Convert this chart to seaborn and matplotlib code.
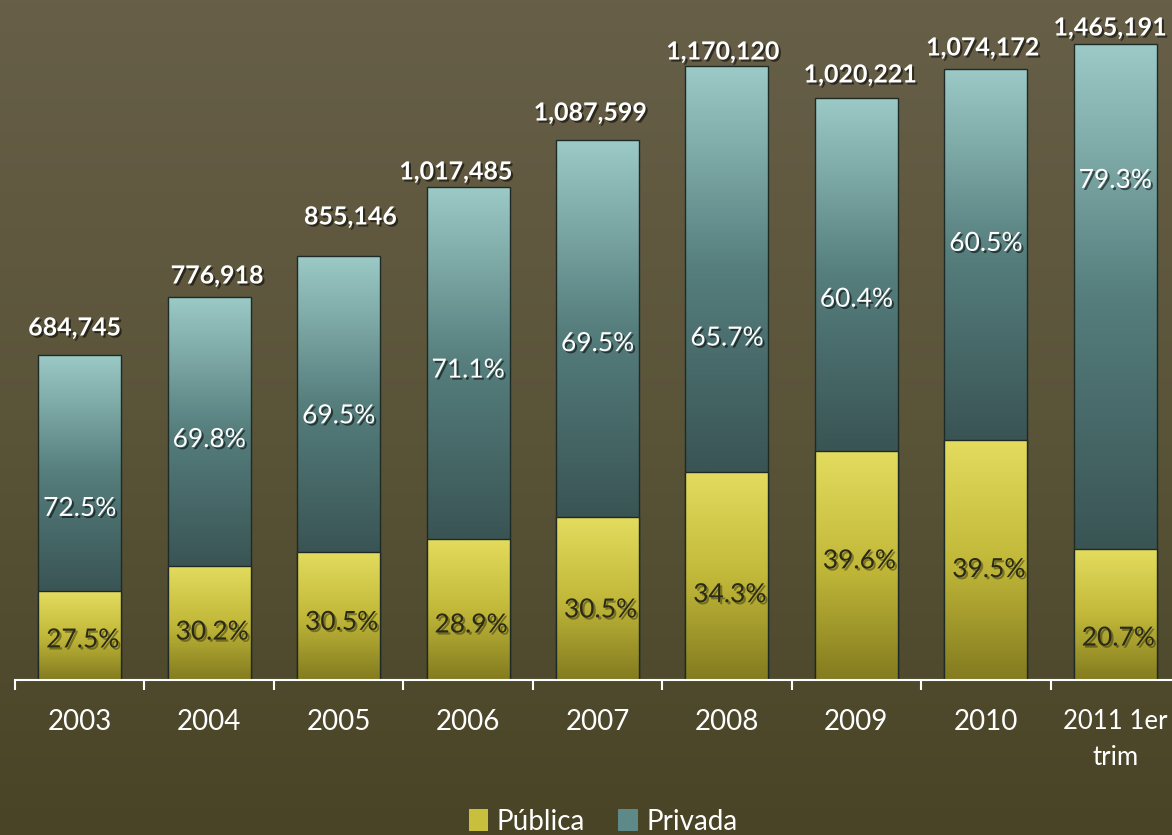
import numpy as np
import pandas as pd
import matplotlib
matplotlib.use("Agg")
import matplotlib.pyplot as plt
import seaborn as sns
from matplotlib import patheffects as pe
from matplotlib.colors import LinearSegmentedColormap
from matplotlib.patches import Patch

# ---------------- data ----------------
years = ["2003", "2004", "2005", "2006", "2007", "2008", "2009", "2010", "2011 1er\ntrim"]
totals = [684745, 776918, 855146, 1017485, 1087599, 1170120, 1020221, 1074172, 1465191]
pct_publica = [27.5, 30.2, 30.5, 28.9, 30.5, 34.3, 39.6, 39.5, 20.7]
pct_privada = [72.5, 69.8, 69.5, 71.1, 69.5, 65.7, 60.4, 60.5, 79.3]
# segment heights as drawn in the picture
publica = [187500, 240200, 269700, 297100, 343400, 438300, 482500, 505700, 276000]
privada = [497300, 566800, 623700, 741700, 794300, 855400, 743800, 781700, 1064000]

# ---------------- layout / style ----------------
priv_lab_frac = [0.35, 0.47, 0.46, 0.48, 0.46, 0.33, 0.43, 0.53, 0.73]
pub_lab_frac = [0.45, 0.42, 0.45, 0.39, 0.43, 0.41, 0.52, 0.46, 0.32]
tot_gap_px = [27, 21, 39, 15, 27, 14, 23, 21, 16]
tot_dx_px = [-5, 8, 12, -12, -7, -4, 4, -3, -5]

sns.set_style("white")
plt.rcParams["font.family"] = ["Lato", "DejaVu Sans"]

W, H = 1172, 835
fig = plt.figure(figsize=(W / 100, H / 100), dpi=100)

# background gradient
bg = fig.add_axes([0, 0, 1, 1], zorder=-10)
bg_cmap = LinearSegmentedColormap.from_list("bg", ["#494426", "#5a5439", "#675f48"])
bg.imshow(np.linspace(0, 1, 256).reshape(-1, 1), cmap=bg_cmap, aspect="auto",
          extent=[0, 1, 0, 1], origin="lower")
bg.axis("off")

ax = fig.add_axes([15 / W, 155 / H, 1165 / W, 680 / H])
ax.patch.set_alpha(0)

df = pd.DataFrame({"year": years, "publica": publica, "privada": privada})
df["total"] = df["publica"] + df["privada"]

priv_color = "#6c9896"
pub_color = "#c8bf3c"
edge = "#1e2a26"
bw = 83 / 129.4

sns.barplot(data=df, x="year", y="total", color=priv_color, width=bw, ax=ax,
            errorbar=None, saturation=1, edgecolor=edge, linewidth=1.0, zorder=1)
priv_patches = list(ax.patches)
sns.barplot(data=df, x="year", y="publica", color=pub_color, width=bw, ax=ax,
            errorbar=None, saturation=1, edgecolor=edge, linewidth=1.0, zorder=2)
pub_patches = [p for p in ax.patches if p not in priv_patches]

priv_cmap = LinearSegmentedColormap.from_list("priv", ["#3a5454", "#557e7d", "#9ccac7"])
pub_cmap = LinearSegmentedColormap.from_list("pub", ["#837b1f", "#c2b93a", "#e4dc5e"])
grad = np.linspace(0, 1, 256).reshape(-1, 1)

ymax = 680 * 2107
for p_t, p_p in zip(priv_patches, pub_patches):
    x0, w = p_t.get_x(), p_t.get_width()
    top, split = p_t.get_height(), p_p.get_height()
    im = ax.imshow(grad, cmap=priv_cmap, aspect="auto", origin="lower",
                   extent=[x0, x0 + w, split, top], zorder=1.5)
    im.set_clip_path(p_t)
    p_t.set_facecolor("none")
    p_t.set_zorder(1.6)
    im2 = ax.imshow(grad, cmap=pub_cmap, aspect="auto", origin="lower",
                    extent=[x0, x0 + w, 0, split], zorder=2.5)
    im2.set_clip_path(p_p)
    p_p.set_facecolor("none")
    p_p.set_zorder(2.6)

ax.set_xlim(-0.5, len(years) - 0.5)
ax.set_ylim(0, ymax)

shadow_w = [pe.SimplePatchShadow(offset=(1.5, -1.5), shadow_rgbFace="black", alpha=0.55), pe.Normal()]
shadow_d = [pe.SimplePatchShadow(offset=(1.5, -1.5), shadow_rgbFace="#000000", alpha=0.35), pe.Normal()]

for i, (p_t, p_p) in enumerate(zip(priv_patches, pub_patches)):
    cx = p_t.get_x() + p_t.get_width() / 2
    top, split = p_t.get_height(), p_p.get_height()
    ax.text(cx, split + priv_lab_frac[i] * (top - split), f"{pct_privada[i]:.1f}%",
            ha="center", va="center", color="white", fontsize=19, zorder=5,
            path_effects=shadow_w)
    ax.text(cx + 3 / 129.4, pub_lab_frac[i] * split, f"{pct_publica[i]:.1f}%",
            ha="center", va="center", color="#2b2a16", fontsize=19, zorder=5,
            path_effects=shadow_d)
    ax.annotate(f"{totals[i]:,}", xy=(cx, top), xytext=(tot_dx_px[i], tot_gap_px[i]),
                textcoords="offset pixels", ha="center", va="center", color="white",
                fontsize=18, fontweight="bold", annotation_clip=False, zorder=5,
                path_effects=shadow_w)

for s in ["top", "right", "left"]:
    ax.spines[s].set_visible(False)
ax.spines["bottom"].set_color("white")
ax.spines["bottom"].set_linewidth(1.5)
ax.spines["bottom"].set_zorder(6)
ax.set_yticks([])
ax.set_xlabel("")
ax.set_ylabel("")
ax.set_xticks(range(len(years)))
ax.set_xticklabels(years)
ax.set_xticks(np.arange(-0.5, len(years), 1), minor=True)
ax.tick_params(axis="x", which="major", bottom=True, length=0, pad=21, labelsize=20, labelcolor="white")
ax.tick_params(axis="x", which="minor", bottom=True, length=7.5, width=1.5, color="white", direction="out")
for lab in ax.get_xticklabels():
    lab.set_multialignment("center")
    lab.set_linespacing(1.55)
ax.get_xticklabels()[-1].set_fontsize(18.5)

handles = [Patch(facecolor=pub_color, edgecolor="none"), Patch(facecolor="#5d8a89", edgecolor="none")]
fig.legend(handles, ["Pública", "Privada"], loc="center", bbox_to_anchor=(603 / W, 1 - 822 / H),
           ncol=2, frameon=False, handlelength=0.7, handleheight=0.85, handletextpad=0.3,
           columnspacing=1.2, fontsize=20, labelcolor="white")

fig.savefig("out.png", dpi=100)
